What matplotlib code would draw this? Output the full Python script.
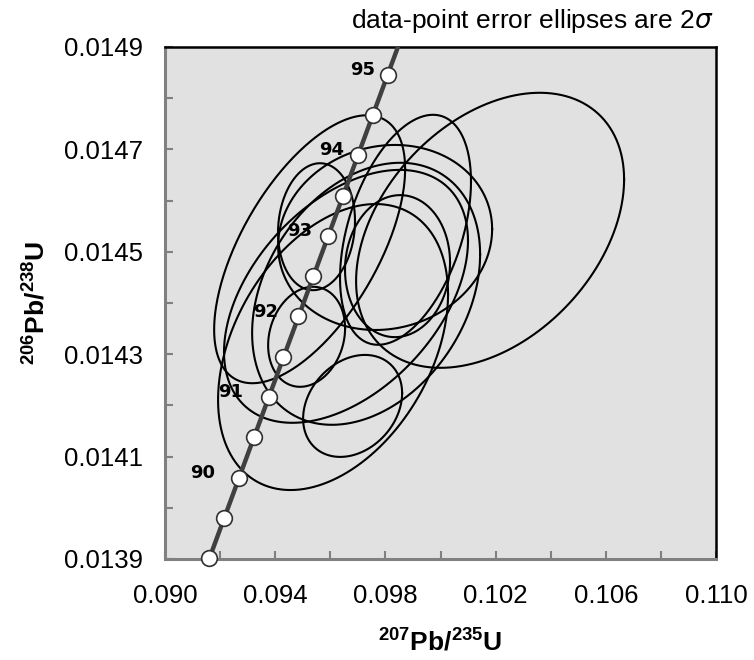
import numpy as np
import matplotlib
matplotlib.use("Agg")
import matplotlib.pyplot as plt
from matplotlib.ticker import FixedLocator, FormatStrFormatter

plt.rcParams['font.family'] = ['Liberation Sans', 'DejaVu Sans']
plt.rcParams['mathtext.fontset'] = 'custom'
plt.rcParams['mathtext.rm'] = 'Liberation Sans'
plt.rcParams['mathtext.bf'] = 'Liberation Sans:bold'

# U decay constants (1/yr)
L238 = 1.55125e-10
L235 = 9.8485e-10

# concordia ages (Ma) marked with circles, and the labelled ones
ages = [89.0, 89.5, 90.0, 90.5, 91.0, 91.5, 92.0, 92.5, 93.0, 93.5, 94.0, 94.5, 95.0]
label_ages = [90, 91, 92, 93, 94, 95]
label_shift = [-24, -25, -20, -16, -14, -12]   # px left of the point

x_ticks = [0.090, 0.094, 0.098, 0.102, 0.106, 0.110]
x_minor = [0.092, 0.096, 0.100, 0.104, 0.108]
y_ticks = [0.0139, 0.0141, 0.0143, 0.0145, 0.0147, 0.0149]
y_minor = [0.0140, 0.0142, 0.0144, 0.0146, 0.0148]

# error ellipses: 207Pb/235U, 2s, 206Pb/238U, 2s, rho
ell_x   = [0.10180, 0.09525, 0.09873, 0.09799, 0.09730, 0.09657, 0.09514, 0.09681, 0.09610, 0.09844, 0.09550]
ell_sx  = [0.004864, 0.003466, 0.002377, 0.003884, 0.004138, 0.004428, 0.001397, 0.001797, 0.004174, 0.001906, 0.001397]
ell_y   = [0.014542, 0.014505, 0.014543, 0.014528, 0.014418, 0.014413, 0.014334, 0.014199, 0.014314, 0.014472, 0.014549]
ell_sy  = [0.0002686, 0.0002617, 0.0002246, 0.0001807, 0.0002559, 0.000247, 0.0000977, 0.0000996, 0.0002793, 0.0001387, 0.000124]
ell_rho = [0.37, 0.60, 0.42, 0.09, 0.30, 0.44, 0.17, 0.25, 0.37, 0.05, 0.09]


def concordia(t_ma):
    t = np.asarray(t_ma) * 1e6
    return np.exp(L235 * t) - 1, np.exp(L238 * t) - 1


fig = plt.figure(figsize=(7.54, 6.6), dpi=100)
ax = fig.add_axes([165 / 754, 1 - 559 / 660, 551 / 754, 512 / 660])
ax.set_facecolor('#e1e1e1')

# error ellipses
th = np.linspace(0, 2 * np.pi, 300)
for cx, sx, cy, sy, r in zip(ell_x, ell_sx, ell_y, ell_sy, ell_rho):
    ex = cx + sx * np.cos(th)
    ey = cy + sy * (r * np.cos(th) + np.sqrt(1 - r ** 2) * np.sin(th))
    ax.plot(ex, ey, color='k', lw=1.5, zorder=2)

# concordia curve
cx_line, cy_line = concordia([87.0, 97.0])
ax.plot(cx_line, cy_line, color='#404040', lw=3.2, zorder=3, solid_capstyle='butt')
px, py = concordia(ages)
ax.plot(px, py, 'o', ms=11.3, mfc='white', mec='#303030', mew=1.2, zorder=4, clip_on=False)
lx, ly = concordia(label_ages)
for a, x, y, dx in zip(label_ages, lx, ly, label_shift):
    ax.annotate(str(a), (x, y), xytext=(dx * 0.72, 3.5), textcoords='offset points',
                ha='right', va='center', fontsize=13, fontweight='bold',
                family='DejaVu Sans', zorder=5)

ax.set_xlim(0.090, 0.110)
ax.set_ylim(0.0139, 0.0149)
ax.xaxis.set_major_locator(FixedLocator(x_ticks))
ax.xaxis.set_minor_locator(FixedLocator(x_minor))
ax.yaxis.set_major_locator(FixedLocator(y_ticks))
ax.yaxis.set_minor_locator(FixedLocator(y_minor))
ax.xaxis.set_major_formatter(FormatStrFormatter('%.3f'))
ax.yaxis.set_major_formatter(FormatStrFormatter('%.4f'))
ax.tick_params(which='both', direction='in', color='#808080', width=1.5, length=6, labelsize=18.5)
ax.tick_params(axis='x', which='major', pad=18)
ax.tick_params(axis='y', which='major', pad=16)

for side in ['left', 'bottom']:
    ax.spines[side].set_color('#808080')
    ax.spines[side].set_linewidth(2.2)
for side in ['top', 'right']:
    ax.spines[side].set_color('black')
    ax.spines[side].set_linewidth(1.8)

ax.set_xlabel(r'$\mathbf{^{207}Pb/^{235}U}$', fontsize=19, labelpad=15)
ax.set_ylabel(r'$\mathbf{^{206}Pb/^{238}U}$', fontsize=19, labelpad=10)
fig.text(713 / 754, 1 - 21 / 660, 'data-point error ellipses are 2$\\sigma$',
         ha='right', va='center', fontsize=19)

fig.savefig('out.png', dpi=100)
